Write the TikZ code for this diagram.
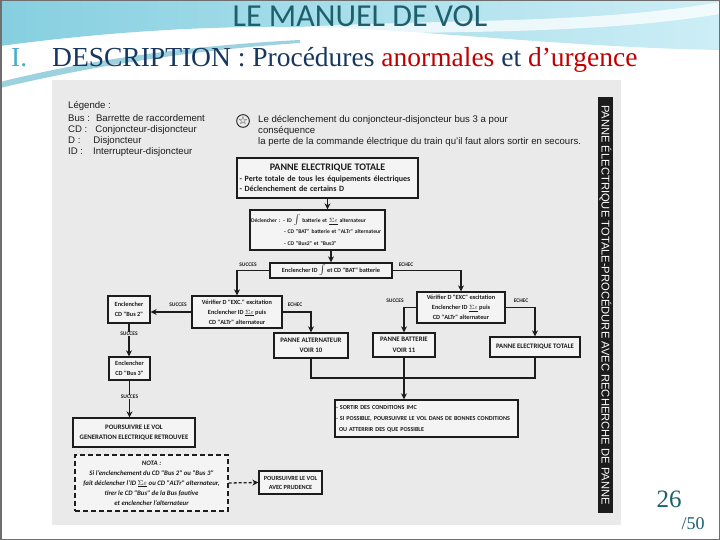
\documentclass[tikz,border=0pt]{standalone}
\usepackage{fontspec}
\setmainfont{Liberation Serif}
\newfontfamily\calfont{Carlito}
\newfontfamily\arialfont{Liberation Sans}
\newfontfamily\symfont{DejaVu Sans}
\usepackage{xcolor}
\usepackage{tikz}
\usetikzlibrary{arrows.meta,positioning}
\definecolor{ink}{HTML}{1C1C1C}
\definecolor{scanbg}{HTML}{EAEAEA}
\definecolor{boxfill}{HTML}{F4F4F4}
\definecolor{titleteal}{HTML}{1D5F6C}
\definecolor{lightteal}{HTML}{4BACC6}
\definecolor{navy}{HTML}{17375E}
\definecolor{urgred}{HTML}{C00000}
\definecolor{skyblue}{HTML}{86CFE0}
\definecolor{paleblue}{HTML}{CDEEF6}
\definecolor{framegray}{HTML}{6E6E6E}
\newcommand{\swsym}{{\fontsize{9}{9}\selectfont$\int$}}
\newcommand{\altsym}{$\underline{\Sigma\varepsilon}$}

\begin{document}
\begin{tikzpicture}[x=1pt,y=-1pt,
  font=\calfont\bfseries\fontsize{6.3}{10}\selectfont,
  bx/.style={draw=ink,line width=1.3pt,fill=boxfill,inner sep=1pt,align=center,text=ink},
  caps/.style={font=\calfont\bfseries\fontsize{6.8}{10.5}\selectfont},
  notabox/.style={draw=ink,line width=1.3pt,dash pattern=on 5pt off 3pt,fill=boxfill,align=center,text=ink,
    font=\calfont\bfseries\itshape\fontsize{6.8}{10}\selectfont},
  arr/.style={-{Stealth[length=6pt,width=6pt]},line width=1.6pt,draw=ink},
  ln/.style={line width=1.6pt,draw=ink},
  darr/.style={-{Stealth[length=6pt,width=6pt]},line width=1.3pt,draw=ink,dash pattern=on 3pt off 2pt},
  lbl/.style={font=\calfont\bfseries\fontsize{5.5}{6}\selectfont,text=ink,inner sep=0.5pt},
  leg/.style={font=\arialfont\fontsize{9.6}{11}\selectfont,text=ink,anchor=base west,inner sep=0pt}
]
\useasboundingbox (0,0) rectangle (720,540);
\fill[white] (0,0) rectangle (720,540);
% header waves
\shade[left color=skyblue,right color=paleblue] (0,0) -- (720,0) -- (720,50)
  .. controls (600,48) and (480,36) .. (380,30) .. controls (250,22) and (120,30) .. (0,46) -- cycle;
\fill[lightteal,opacity=.55] (0,82) .. controls (80,62) and (180,46) .. (300,40)
  -- (300,43) .. controls (180,51) and (80,69) .. (0,88) -- cycle;
\fill[white,opacity=.75] (140,42) .. controls (340,12) and (550,32) .. (720,2)
  -- (720,14) .. controls (550,42) and (340,26) .. (140,42) -- cycle;
\draw[framegray,line width=1.5pt] (0.75,0.75) rectangle (719.25,539.25);

\node[font=\calfont\fontsize{32}{34}\selectfont,text=titleteal,anchor=base] (title) at (360,27) {LE MANUEL DE VOL};
\node[font=\fontsize{27.5}{29}\selectfont,text=lightteal,anchor=base west,inner sep=0pt] (secnum) at (11,67) {I.};
\node[font=\fontsize{27.5}{29}\selectfont,text=navy,anchor=base west,inner sep=0pt] (subtitle) at (52,67)
  {DESCRIPTION : Procédures \textcolor{urgred}{anormales} et \textcolor{urgred}{d’urgence}};

% scanned page
\fill[scanbg] (52,80) rectangle (621,525);

% legend
\node[leg] (legtitle) at (68,109) {Légende :};
\node[leg] (legbus) at (68,122) {Bus :\hspace{6pt}Barrette de raccordement};
\node[leg] (legcd) at (68,133) {CD :\hspace{8pt}Conjoncteur-disjoncteur};
\node[leg] (legd) at (68,144) {D :\hspace{13pt}Disjoncteur};
\node[leg] (legid) at (68,155) {ID :\hspace{10pt}Interrupteur-disjoncteur};
\node[draw=ink,circle,line width=.9pt,inner sep=0pt,text=ink,font=\symfont\fontsize{11}{11}\selectfont] (star) at (243,121) {☆};
\node[leg] (note1) at (258,123) {Le déclenchement du conjoncteur-disjoncteur bus 3 a pour};
\node[leg] (note2) at (258,134) {conséquence};
\node[leg] (note3) at (258,145) {la perte de la commande électrique du train qu’il faut alors sortir en secours.};

% flowchart
\node[bx,minimum width=181pt,minimum height=40pt,text width=176pt,align=left,font=\calfont\bfseries\fontsize{8}{10.5}\selectfont] (total) at (327.5,178)
  {\makebox[176pt]{\fontsize{10}{11}\selectfont PANNE ELECTRIQUE TOTALE}\\
   - Perte totale de tous les équipements électriques\\
   - Déclenchement de certains D};
\node[bx,minimum width=135pt,minimum height=40pt,text width=133pt,align=left,font=\calfont\bfseries\fontsize{5.6}{11.5}\selectfont] (trip) at (317.5,230)
  {Déclencher : - ID \swsym\ batterie et \altsym\ alternateur\\
   \hspace*{33pt}- CD "BAT" batterie et "ALTr" alternateur\\
   \hspace*{33pt}- CD "Bus2" et "Bus3"};
\node[bx,minimum width=122pt,minimum height=15pt] (closeid) at (331,270.5) {Enclencher ID \swsym\ et CD "BAT" batterie};
\node[bx,minimum width=90pt,minimum height=32pt] (checkl) at (237,312)
  {Vérifier D "EXC." excitation\\ Enclencher ID \altsym\ puis\\ CD "ALTr" alternateur};
\node[bx,minimum width=42pt,minimum height=27pt] (bustwo) at (129,309.5) {Enclencher\\ CD "Bus 2"};
\node[bx,minimum width=41pt,minimum height=23pt] (busthree) at (129.5,368.5) {Enclencher\\ CD "Bus 3"};
\node[bx,caps,minimum width=122pt,minimum height=29pt] (genok) at (134,432.5) {POURSUIVRE LE VOL\\ GENERATION ELECTRIQUE RETROUVEE};
\node[bx,caps,minimum width=74pt,minimum height=25pt] (altfail) at (311,345.5) {PANNE ALTERNATEUR\\ VOIR 10};
\node[bx,minimum width=88pt,minimum height=31pt] (checkr) at (461,307.5)
  {Vérifier D "EXC" excitation\\ Enclencher ID \altsym\ puis\\ CD "ALTr" alternateur};
\node[bx,caps,minimum width=62pt,minimum height=24pt] (batfail) at (404,345) {PANNE BATTERIE\\ VOIR 11};
\node[bx,caps,minimum width=90pt,minimum height=20pt] (totfail) at (535,347) {PANNE ELECTRIQUE TOTALE};
\node[bx,minimum width=183pt,minimum height=37pt,text width=181pt,align=left,font=\calfont\bfseries\fontsize{6.1}{11}\selectfont] (imc) at (426.5,418.5)
  {- SORTIR DES CONDITIONS IMC\\
   - SI POSSIBLE, POURSUIVRE LE VOL DANS DE BONNES CONDITIONS\\
   \hspace*{3pt}OU ATTERRIR DES QUE POSSIBLE};
\node[notabox,minimum width=153pt,minimum height=56pt] (nota) at (151.5,483)
  {NOTA :\\ Si l’enclenchement du CD "Bus 2" ou "Bus 3"\\ fait déclencher l’ID \altsym\ ou CD "ALTr" alternateur,\\
   tirer le CD "Bus" de la Bus fautive\\ et enclencher l’alternateur};
\node[bx,caps,font=\calfont\bfseries\fontsize{6.3}{9}\selectfont,minimum width=63pt,minimum height=23pt] (prudence) at (290.5,482.5) {POURSUIVRE LE VOL\\ AVEC PRUDENCE};

\coordinate (merge) at (404,378);
\draw[arr] (total.south) -- (total.south |- trip.north);
\draw[arr] (trip.south -| closeid.north) -- (closeid.north);
\draw[arr] (closeid.west) -| (checkl.north);
\draw[arr] (closeid.east) -| (checkr.north);
\draw[arr] (checkl.west) -- (checkl.west -| bustwo.east);
\draw[arr] (checkl.east) -| (altfail.north);
\draw[arr] (bustwo.south) -- (bustwo.south |- busthree.north);
\draw[arr] (busthree.south) -- (busthree.south |- genok.north);
\draw[arr] (checkr.west) -| (batfail.north);
\draw[arr] (checkr.east) -| (totfail.north);
\draw[ln] (altfail.south) |- (merge) -| (totfail.south);
\draw[arr] (batfail.south) -- (batfail.south |- imc.north);
\draw[darr] (nota.east) -- (prudence.west);

\node[lbl] (s1) at (248,265) {SUCCES};
\node[lbl] (e1) at (406,265) {ECHEC};
\node[lbl] (s2) at (178,305) {SUCCES};
\node[lbl] (e2) at (295,305) {ECHEC};
\node[lbl,fill=scanbg] (s3) at (129,334) {SUCCES};
\node[lbl,fill=scanbg] (s4) at (129.5,397) {SUCCES};
\node[lbl] (s5) at (395,301) {SUCCES};
\node[lbl] (e3) at (521,301) {ECHEC};

% side band
\node[fill=ink,text=white,rotate=-90,minimum width=415pt,minimum height=15pt,inner sep=0pt,
  font=\arialfont\fontsize{11.2}{13}\selectfont] (band) at (605.5,305)
  {PANNE ÉLECTRIQUE TOTALE-PROCÉDURE AVEC RECHERCHE DE PANNE};

\node[font=\fontsize{25}{27}\selectfont,text=titleteal,anchor=base] (page) at (669,507) {26};
\node[font=\fontsize{18}{20}\selectfont,text=titleteal,anchor=base] (pages) at (693,529) {/50};
\end{tikzpicture}
\end{document}
